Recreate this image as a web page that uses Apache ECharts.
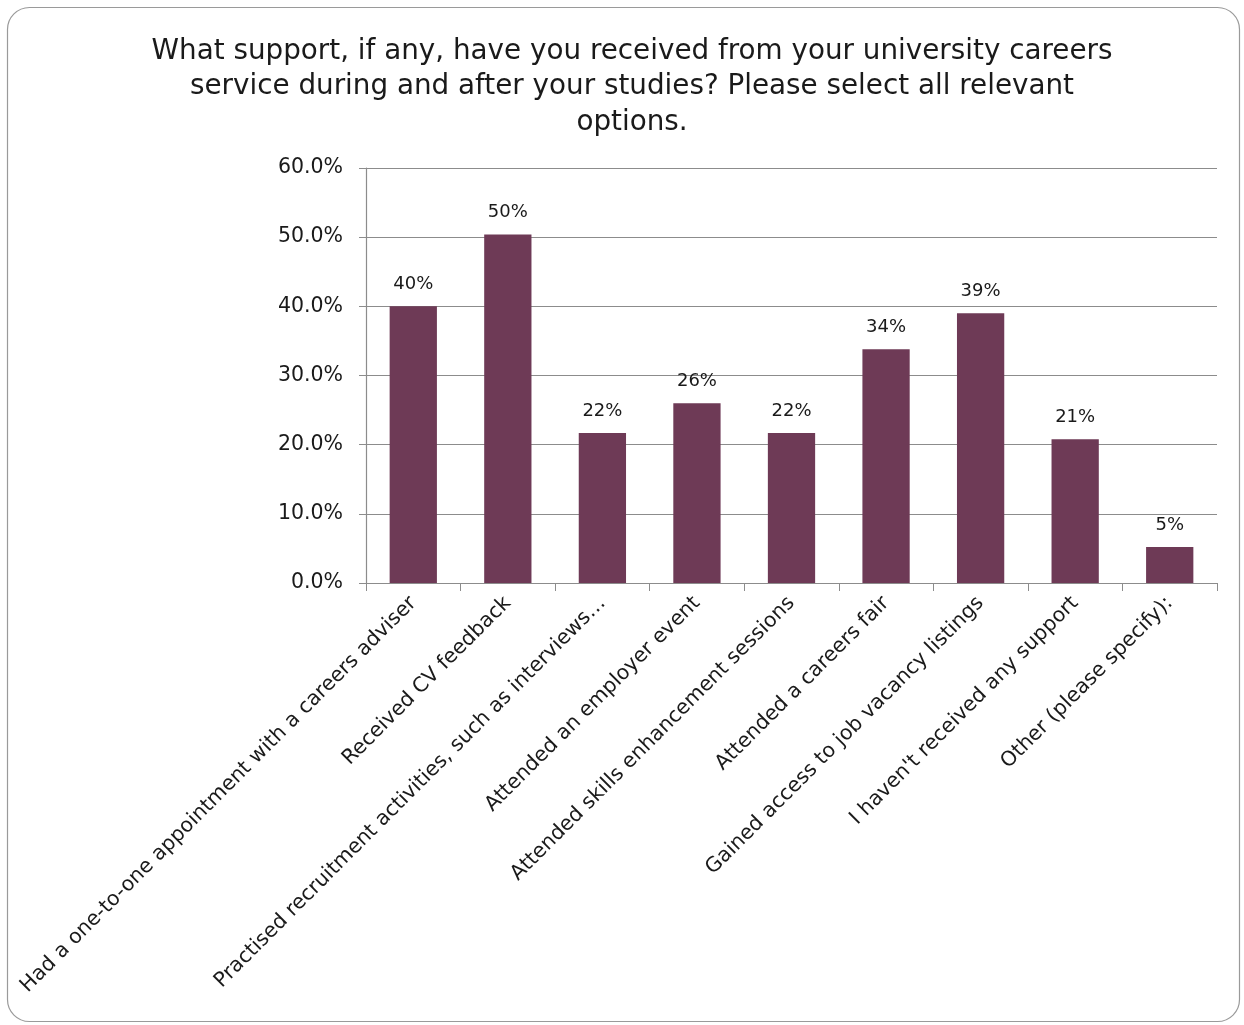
<!DOCTYPE html>
<html>
<head>
<meta charset="utf-8">
<script src="https://cdn.jsdelivr.net/npm/echarts@6/dist/echarts.min.js"></script>
<style>
html,body{margin:0;padding:0;background:#fff;}
#chart{width:1244px;height:1025px;}
</style>
</head>
<body>
<div id="chart"></div>
<script>
const titleText = "What support, if any, have you received from your university careers\nservice during and after your studies? Please select all relevant\noptions.";
const categories = [
  "Had a one-to-one appointment with a careers adviser",
  "Received CV feedback",
  "Practised recruitment activities, such as interviews…",
  "Attended an employer event",
  "Attended skills enhancement sessions",
  "Attended a careers fair",
  "Gained access to job vacancy listings",
  "I haven't received any support",
  "Other (please specify):"
];
const values = [0.40, 0.504, 0.217, 0.26, 0.217, 0.338, 0.39, 0.208, 0.052];
const yTicks = { min: 0, max: 0.6, interval: 0.1 };

const FONT = "'DejaVu Sans', sans-serif";
const chart = echarts.init(document.getElementById('chart'));
chart.setOption({
  animation: false,
  backgroundColor: '#ffffff',
  graphic: [{
    type: 'rect',
    shape: { x: 7.5, y: 7.5, width: 1232, height: 1014, r: 22 },
    style: { fill: 'none', stroke: '#9a9a9a', lineWidth: 1.2 },
    z: -1
  }],
  title: {
    text: titleText,
    left: 627,
    top: 29,
    textAlign: 'center',
    textStyle: { fontFamily: FONT, fontSize: 27.8, fontWeight: 'normal', color: '#1a1a1a', lineHeight: 35.5 }
  },
  grid: { left: 366, right: 27, top: 168, bottom: 442, containLabel: false },
  xAxis: {
    type: 'category',
    data: categories,
    axisLine: { lineStyle: { color: '#8c8c8c', width: 1.2 } },
    axisTick: { show: true, length: 8, lineStyle: { color: '#8c8c8c' } },
    axisLabel: {
      interval: 0, rotate: 45, margin: 17,
      fontFamily: FONT, fontSize: 20.5, color: '#1a1a1a'
    }
  },
  yAxis: {
    type: 'value',
    min: yTicks.min, max: yTicks.max, interval: yTicks.interval,
    axisLine: { show: true, lineStyle: { color: '#8c8c8c', width: 1.2 } },
    axisTick: { show: true, length: 7, lineStyle: { color: '#8c8c8c' } },
    splitLine: { lineStyle: { color: '#8c8c8c', width: 1.2 } },
    axisLabel: {
      margin: 23,
      fontFamily: FONT, fontSize: 20.5, color: '#1a1a1a'
      , formatter: v => (v * 100).toFixed(1) + '%'
    }
  },
  series: [{
    type: 'bar',
    data: values,
    barWidth: '50%',
    itemStyle: { color: '#6e3a56' },
    label: {
      show: true, position: 'top', distance: 13,
      fontFamily: FONT, fontSize: 18, color: '#1a1a1a',
      formatter: p => Math.round(p.value * 100) + '%'
    }
  }]
});
</script>
</body>
</html>
